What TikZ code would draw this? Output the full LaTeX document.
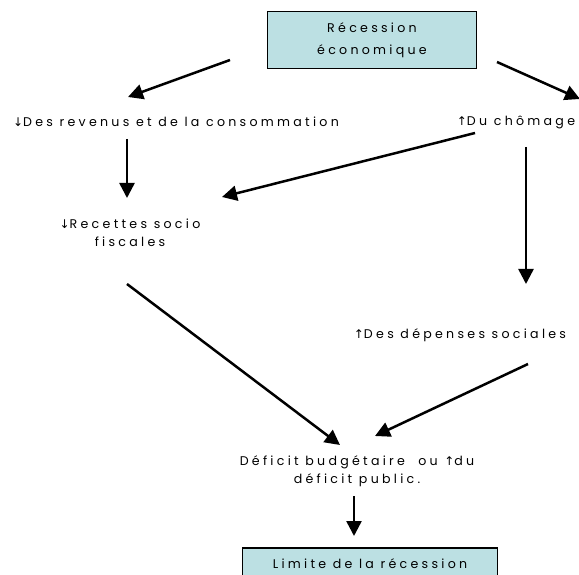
\documentclass[tikz,border=0pt]{standalone}
\usepackage{fontspec}
\setmainfont{Poppins}[LetterSpace=26]
\newfontfamily\arrowfont{DejaVu Sans}
\newcommand\baisse{{\arrowfont\fontsize{12}{12}\selectfont ↓}}
\newcommand\hausse{{\arrowfont\fontsize{12}{12}\selectfont ↑}}
\usepackage{tikz}
\usetikzlibrary{arrows.meta,calc}
\definecolor{boxfill}{RGB}{188,224,227}

\begin{document}
\begin{tikzpicture}[
  x=1pt, y=-1pt,
  font=\fontsize{12.6}{18}\selectfont,
  >={Triangle[length=15pt,width=15pt]},
  block/.style={draw, line width=1.5pt, fill=boxfill, align=center, inner sep=0pt},
  txt/.style={align=center, inner sep=0pt},
  flow/.style={->, line width=2.5pt},
]
\useasboundingbox (0,0) rectangle (579,575);
\clip (0,0) rectangle (579,575);

% ---- boxes --------------------------------------------------------------
\node[block, minimum width=209pt, minimum height=57pt,
      font=\fontsize{12.6}{22}\selectfont] (rec) at (372,40)
  {Récession\\économique};
\node[block, minimum width=255pt, minimum height=43pt, anchor=north,
      text height=9pt, text depth=10pt] (limite) at (370,547)
  {Limite de la récession};

% ---- effects ------------------------------------------------------------
\node[txt] (revenus)  at (176,122) {\baisse Des revenus et de la consommation};
\node[txt] (chomage)  at (516,122) {\hausse Du chômage};
\node[txt] (recettes) at (130,233) {\baisse Recettes socio\\fiscales};
\node[txt] (depenses) at (460,335) {\hausse Des dépenses sociales};
\node[txt] (deficit)  at (357,471) {Déficit budgétaire\ \ ou \hausse du\\déficit public.};

% ---- connectors ---------------------------------------------------------
\draw[flow] ($(rec)+(-142,20)$)      -- ($(revenus)+(-48,-25)$);
\draw[flow] ($(rec)+(125,22)$)       -- ($(chomage)+(64,-23)$);
\draw[flow] ($(revenus)+(-49,17)$)   -- ($(recettes)+(-3,-35)$);
\draw[flow] ($(chomage)+(-41,11)$)   -- ($(recettes)+(92,-36)$);
\draw[flow] ($(chomage)+(10,25)$)    -- ($(depenses)+(66,-51)$);
\draw[flow] ($(recettes)+(-3,51)$)   -- ($(deficit)+(-17,-26)$);
\draw[flow] ($(depenses)+(68,29)$)   -- ($(deficit)+(18,-35)$);
\draw[flow] ($(deficit)+(-3,25)$)    -- ($(limite.north)+(-16,-11)$);

\end{tikzpicture}
\end{document}
